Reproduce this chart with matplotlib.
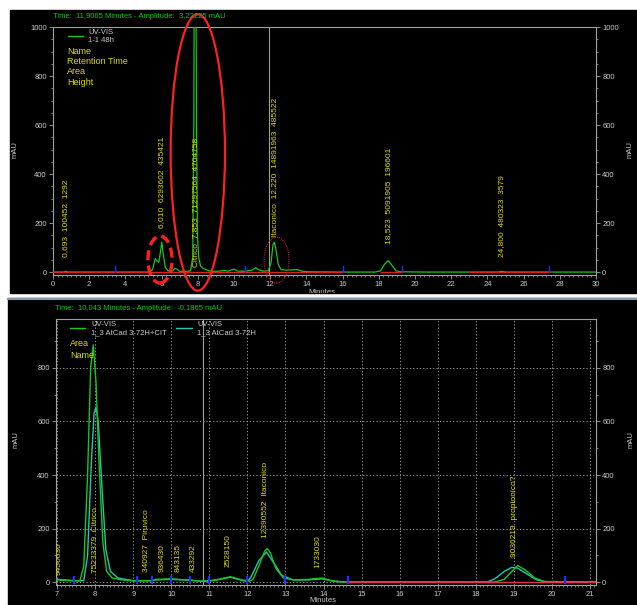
import numpy as np
import matplotlib.pyplot as plt
from matplotlib.patches import Rectangle, Ellipse
from matplotlib.lines import Line2D
from matplotlib.ticker import MultipleLocator

plt.rcParams['font.family'] = ['Liberation Sans', 'DejaVu Sans']

W, H = 637, 605

# ---- run 1: UV-VIS 1-1 48h (minutes, mAU) ----
top_t = [0.0, 0.6, 0.69, 0.8, 5.3, 5.5, 5.65, 5.75, 5.85, 5.95, 6.01, 6.08, 6.2, 6.35,
         6.6, 6.75, 6.85, 7.0, 7.4, 7.6, 7.72, 7.78, 7.8, 7.9, 7.93, 7.98, 8.05, 8.15,
         8.3, 8.6, 9.0, 9.5, 9.7, 9.9, 10.0, 10.2, 10.6, 11.0, 11.2, 11.35, 11.6, 11.9,
         12.05, 12.15, 12.22, 12.3, 12.45, 12.6, 12.9, 13.5, 13.8, 14.2, 16.0, 17.8,
         18.1, 18.3, 18.52, 18.75, 18.95, 19.2, 20.6, 24.6, 24.8, 25.0, 30.0]
top_mau = [0, 0, 3, 0, 0, 10, 55, 45, 40, 90, 122, 80, 20, 5,
           5, 15, 12, 3, 3, 5, 60, 600, 1150, 1150, 600, 150, 60, 25,
           15, 5, 3, 6, 4, 10, 12, 4, 3, 8, 18, 10, 4, 5,
           40, 110, 122, 100, 30, 10, 8, 10, 3, 1, 0, 0,
           5, 30, 47, 25, 5, 1, 0, 0, 3, 0, 0]

# integration baselines and peak markers
top_base = [(0.0, 16.0), (18.1, 19.3), (23.0, 27.4)]
top_marks = [3.4, 10.6, 16.0, 19.3, 27.4]

# peak labels: name, retention time, area, height
top_labels = ["0,693  100452  1292",
              "6,010  6293602  435421",
              "Citrico  7,853  71297564  4704758",
              "Itaconico  12,220  14891963  485522",
              "18,523  5091905  196601",
              "24,800  480323  3579"]
top_label_t = [0.693, 6.010, 7.853, 12.220, 18.523, 24.800]
top_label_y = [61, 180, 20, 143, 114, 61]

# ---- run 2: two overlaid traces ----
cit_t = [7.0, 7.4, 7.6, 7.7, 7.8, 7.88, 7.95, 8.02, 8.1, 8.2, 8.3, 8.45, 8.7, 9.0,
         9.5, 9.6, 10.0, 10.4, 10.8, 11.0, 11.3, 11.55, 11.8, 12.05, 12.15, 12.3,
         12.45, 12.52, 12.6, 12.75, 12.95, 13.2, 13.6, 13.95, 14.2, 14.5, 18.5,
         18.75, 18.95, 19.1, 19.3, 19.55, 19.8, 21.2]
cit_mau = [8, 5, 5, 60, 400, 800, 886, 750, 450, 150, 40, 15, 8, 5,
           5, 10, 12, 8, 3, 3, 12, 20, 10, 3, 10, 60,
           115, 125, 110, 50, 15, 8, 10, 15, 5, 0, 0,
           10, 40, 62, 45, 15, 2, 0]

ref_t = [7.0, 7.5, 7.7, 7.8, 7.9, 7.97, 8.02, 8.08, 8.18, 8.28, 8.4, 8.6, 9.0,
         9.5, 9.6, 10.0, 10.5, 10.8, 11.2, 11.55, 11.9, 12.0, 12.1, 12.3, 12.5,
         12.7, 12.9, 13.2, 13.6, 13.95, 14.3, 14.6, 18.3, 18.5, 18.75, 18.95,
         19.1, 19.35, 19.6, 19.85, 21.2]
ref_mau = [10, 5, 5, 100, 450, 630, 654, 600, 350, 120, 40, 15, 5,
           5, 8, 10, 7, 3, 8, 18, 5, 2, 20, 80, 112,
           70, 25, 8, 8, 12, 3, 0, 0, 12, 40, 55,
           52, 30, 8, 1, 0]

bot_marks = [7.45, 9.1, 9.5, 9.98, 10.5, 11.0, 12.0, 13.0, 14.65, 20.35]
bot_labels = ["9450630", "75233379  Citrico", "340927  Piruvico", "936430",
              "843135", "433292", "2528150", "12390552  Itaconico", "1733030",
              "9036219  propionico?"]
bot_label_t = [7.06, 8.0, 9.35, 9.75, 10.18, 10.57, 11.5, 12.47, 13.85, 19.03]
bot_label_y = [26, 34, 37, 37, 37, 37, 56, 164, 52, 93]

GREEN = '#19c819'
CYAN = '#20c8b4'
YELLOW = '#dcdc00'
TITLE = '#00d000'
TXT = '#c8c8c8'
SPINE = '#a0a0a0'
RED = '#e02020'


def fx(x):
    return x / W


def fy(y):
    return 1 - y / H


fig = plt.figure(figsize=(W / 100, H / 100), dpi=100, facecolor='white')

# black instrument panels behind both axes
panel1 = Rectangle((fx(10), fy(293)), (637 - 10) / W, (293 - 10) / H,
                   transform=fig.transFigure, color='black', zorder=-5)
panel2 = Rectangle((fx(8), 0), (637 - 8) / W, (605 - 298) / H,
                   transform=fig.transFigure, color='black', zorder=-5)
fig.patches.extend([panel1, panel2])
fig.add_artist(Line2D([fx(8), 1], [fy(299), fy(299)], color='#8a98b0', lw=1.5,
                      zorder=-4))


def style(ax):
    ax.set_facecolor('black')
    for s in ax.spines.values():
        s.set_color(SPINE)
        s.set_linewidth(0.8)
    ax.tick_params(which='both', colors=SPINE, labelcolor=TXT, labelsize=5.5,
                   right=True, labelright=True, direction='out', pad=1.5)
    ax.tick_params(which='major', length=3, width=0.6)
    ax.tick_params(which='minor', length=1.5, width=0.5)


# ---------------- upper chromatogram ----------------
ax1 = fig.add_axes([fx(53), fy(275), (596 - 53) / W, 248 / H])
style(ax1)
ax1.set_xlim(0, 30)
ax1.set_ylim(-12, 1000)
ax1.xaxis.set_major_locator(MultipleLocator(2))
ax1.xaxis.set_minor_locator(MultipleLocator(0.25))
ax1.yaxis.set_major_locator(MultipleLocator(200))
ax1.yaxis.set_minor_locator(MultipleLocator(50))

ax1.plot(top_t, top_mau, color=GREEN, lw=0.9, zorder=3)
for a, b in top_base:
    ax1.plot([a, b], [0, 0], color=RED, lw=1.0, zorder=4)
for m in top_marks:
    ax1.plot([m, m], [0, 25], color='#2030ff', lw=1.0, zorder=5)
ax1.axvline(11.9065, color=SPINE, lw=0.8, zorder=2)

for lab, t, y in zip(top_labels, top_label_t, top_label_y):
    ax1.text(t, y, lab, rotation=90, ha='center', va='bottom', color=YELLOW,
             fontsize=6, zorder=6)

# hand-drawn highlight rings
ax1.add_patch(Ellipse((8.0, 488), 3.0, 1128, fill=False, ec='#ff2020', lw=1.6,
                      clip_on=False, zorder=7))
ax1.add_patch(Ellipse((5.91, 51), 1.33, 192, fill=False, ec='#ff2020', lw=2.4,
                      ls=(0, (3, 1.6)), clip_on=False, zorder=7))
ax1.add_patch(Ellipse((12.35, 49), 1.38, 188, fill=False, ec='#d01818', lw=0.8,
                      ls=(0, (1, 1)), clip_on=False, zorder=7))

fig.text(fx(53), fy(16), "Time:  11,9065 Minutes - Amplitude:  3,22225 mAU",
         color=TITLE, fontsize=5.5, va='center')
fig.add_artist(Line2D([fx(68), fx(83)], [fy(36), fy(36)], color=GREEN, lw=1))
fig.text(fx(88), fy(32), "UV-VIS", color=TXT, fontsize=5.5, va='center')
fig.text(fx(88), fy(41), "1-1 48h", color=TXT, fontsize=5.5, va='center')
for i, s in enumerate(["Name", "Retention Time", "Area", "Height"]):
    fig.text(fx(67), fy(51 + 10.4 * i), s, color=YELLOW, fontsize=6.5, va='center')
fig.text(fx(15), fy(150), "mAU", rotation=90, color=TXT, fontsize=5.5,
         ha='center', va='center')
fig.text(fx(630), fy(150), "mAU", rotation=90, color=TXT, fontsize=5.5,
         ha='center', va='center')
m1 = fig.text(fx(322), fy(289), "Minutes", color=TXT, fontsize=5.5,
              ha='center', va='top')
m1.set_clip_path(panel1)

# ---------------- lower chromatograms ----------------
ax2 = fig.add_axes([fx(56), fy(585), (596 - 56) / W, (585 - 319) / H])
style(ax2)
ax2.set_xlim(6.97, 21.16)
ax2.set_ylim(-11, 983)
ax2.xaxis.set_major_locator(MultipleLocator(1))
ax2.xaxis.set_minor_locator(MultipleLocator(0.1))
ax2.yaxis.set_major_locator(MultipleLocator(200))
ax2.yaxis.set_minor_locator(MultipleLocator(100))
ax2.grid(True, which='major', color='#b0b0b0', lw=0.6, ls=(0, (1.5, 2.5)))

ax2.plot(ref_t, ref_mau, color=CYAN, lw=1.0, zorder=3)
ax2.plot(cit_t, cit_mau, color=GREEN, lw=1.0, zorder=3)
ax2.plot([14.6, 21.16], [0, 0], color='#e83048', lw=1.0, zorder=4)
for m in bot_marks:
    ax2.plot([m, m], [-5, 20], color='#2030ff', lw=1.6, zorder=5)
ax2.axvline(10.84, color=SPINE, lw=0.8, zorder=2)

for lab, t, y in zip(bot_labels, bot_label_t, bot_label_y):
    ax2.text(t, y, lab, rotation=90, ha='center', va='bottom', color=YELLOW,
             fontsize=6, zorder=6, clip_on=True)

fig.text(fx(55), fy(309), "Time:  10,043 Minutes - Amplitude:  -0,1865 mAU",
         color=TITLE, fontsize=5.5, va='center')
fig.add_artist(Line2D([fx(70), fx(85)], [fy(328), fy(328)], color=GREEN, lw=1))
fig.text(fx(91), fy(324), "UV-VIS", color=TXT, fontsize=5.5, va='center')
fig.text(fx(91), fy(333), "1_3 AtCad 3-72H+CIT", color=TXT, fontsize=5.5, va='center')
fig.add_artist(Line2D([fx(176), fx(192)], [fy(328), fy(328)], color=CYAN, lw=1))
fig.text(fx(197), fy(324), "UV-VIS", color=TXT, fontsize=5.5, va='center')
fig.text(fx(197), fy(333), "1_3 AtCad 3-72H", color=TXT, fontsize=5.5, va='center')
fig.text(fx(70), fy(343), "Area", color=YELLOW, fontsize=6.5, va='center')
fig.text(fx(70), fy(355), "Name", color=YELLOW, fontsize=6.5, va='center')
fig.text(fx(16), fy(440), "mAU", rotation=90, color=TXT, fontsize=5.5,
         ha='center', va='center')
fig.text(fx(631), fy(440), "mAU", rotation=90, color=TXT, fontsize=5.5,
         ha='center', va='center')
fig.text(fx(323), fy(597.5), "Minutes", color=TXT, fontsize=5.5, ha='center', va='top')

fig.savefig('out.png', dpi=100, facecolor='white')
